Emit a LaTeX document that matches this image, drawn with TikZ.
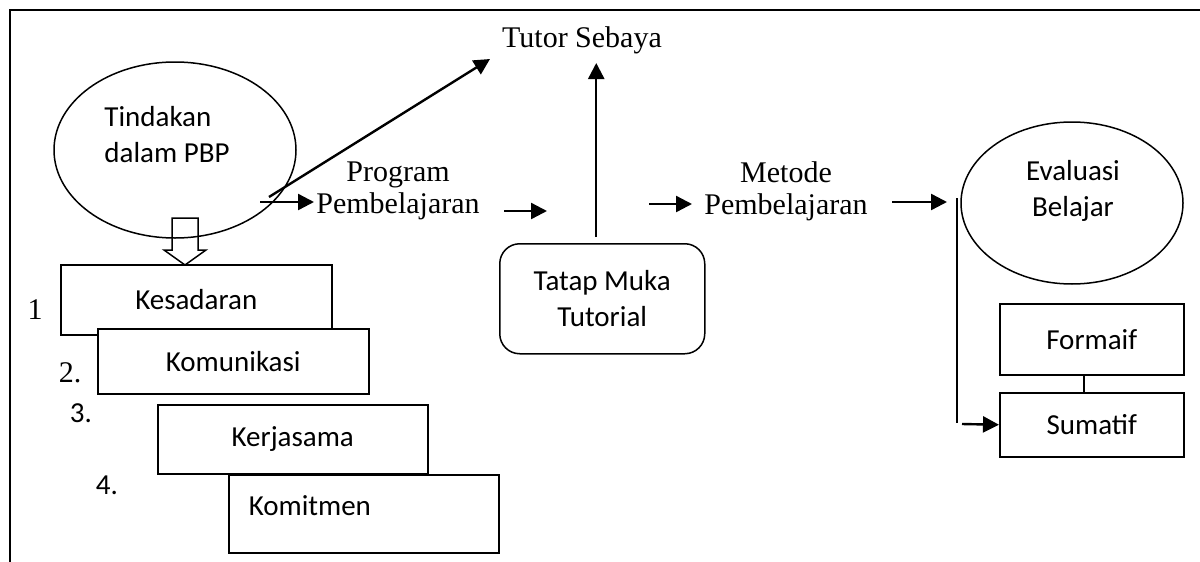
\documentclass[tikz,border=0pt]{standalone}
\usepackage{fontspec}
\setmainfont{Liberation Serif}
\newfontfamily\calibri{Carlito}
\usetikzlibrary{arrows.meta,shapes.geometric}
\begin{document}
\begin{tikzpicture}[x=0.5pt,y=-0.5pt,
  serif/.style={font={\fontsize{15}{16}\selectfont}, inner sep=0pt},
  sans/.style={font={\calibri\fontsize{14.5}{18}\selectfont}, inner sep=0pt},
  box/.style={draw, line width=0.75pt, fill=white, sans, anchor=north west},
  oval/.style={draw, ellipse, line width=0.75pt, inner sep=0pt},
  arr/.style={line width=1.2pt, -{Triangle[length=8pt,width=8pt]}},
]
\useasboundingbox (0,0) rectangle (1200,562);
% frame
\draw[line width=1pt] (1200,10) -- (10,10) -- (10,562);

% hollow down arrow
\draw[line width=0.75pt, fill=white] (172,218) -- (198,218) -- (198,250) -- (206,250)
  -- (185,265) -- (164,250) -- (172,250) -- cycle;

% ellipse Tindakan
\node[oval, minimum width=121pt, minimum height=88pt] (tind) at (175,150) {};
\node[sans, align=left] (tindT) at (167,135) {Tindakan\\dalam PBP};

% stair boxes
\node[box, minimum width=135.5pt, minimum height=35pt] (kes) at (60,264) {Kesadaran};
\node[box, minimum width=135.5pt, minimum height=32.5pt] (kom) at (97,328) {Komunikasi};
\node[box, minimum width=135pt, minimum height=34.5pt] (ker) at (157,404) {Kerjasama};
\node[box, minimum width=135pt, minimum height=39pt, inner xsep=10pt, text width=115pt, align=left, text depth=8pt] (kmt) at (228,474) {Komitmen};

% numbers
\node[serif] (n1) at (35,310) {1};
\node[serif] (n2) at (70,373) {2.};
\node[sans] (n3) at (81,413) {3.};
\node[sans] (n4) at (107,485) {4.};

% texts
\node[serif] (tutor) at (582,40) {Tutor Sebaya};
\node[serif, align=center] (prog) at (398,191) {Program\\Pembelajaran};
\node[serif, align=center] (met) at (786,191) {Metode\\Pembelajaran};

% Tatap Muka
\node[box, rounded corners=10pt, minimum width=102.5pt, minimum height=55pt, align=center] (tatap) at (499,243) {Tatap Muka\\Tutorial};

% Evaluasi
\node[oval, minimum width=111pt, minimum height=81pt] (eval) at (1072,203) {};
\node[sans, align=center] (evalT) at (1073,191) {Evaluasi\\Belajar};

\node[box, minimum width=92pt, minimum height=35.5pt] (form) at (999,303) {Formaif};
\node[box, minimum width=92pt, minimum height=32pt] (sum) at (999,392) {Sumatif};
\draw[line width=0.75pt] ([xshift=-4pt]form.south) -- ([xshift=-4pt]sum.north);

% arrows
\coordinate (a1s) at (260,202);
\coordinate (a1e) at (314,202);
\draw[arr] (a1s) -- (a1e);
\coordinate (d1s) at (269,197);
\coordinate (d1e) at (490,59);
\draw[arr] (d1s) -- (d1e);
\coordinate (a2s) at (504,211);
\coordinate (a2e) at (547,211);
\draw[arr] (a2s) -- (a2e);
\draw[arr] ([xshift=-3pt,yshift=3pt]tatap.north) -- ++(0,-174);
\coordinate (a3s) at (649,204);
\coordinate (a3e) at (692,204);
\draw[arr] (a3s) -- (a3e);
\coordinate (a4s) at (892,202);
\coordinate (a4e) at (947,202);
\draw[arr] (a4s) -- (a4e);
\coordinate (vbt) at (957,198);
\coordinate (vbb) at (957,423);
\draw[line width=1pt] (vbt) -- (vbb);
\coordinate (a5s) at (962,424);
\draw[arr] (a5s) -- (sum.west);
\end{tikzpicture}
\end{document}
